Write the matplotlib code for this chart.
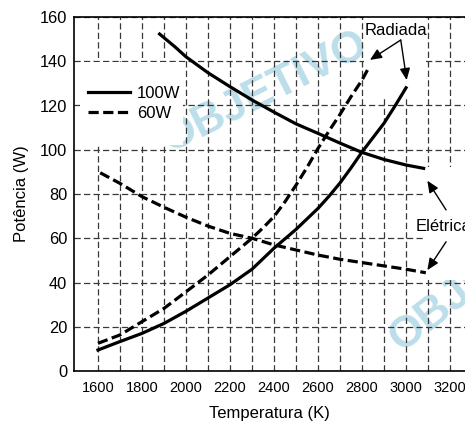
import matplotlib
matplotlib.use("Agg")
import matplotlib.pyplot as plt
from matplotlib.patches import Rectangle
import numpy as np

plt.rcParams['font.family'] = ['Liberation Sans', 'DejaVu Sans']

# valores
el100_T = [1880, 1950, 2000, 2100, 2200, 2300, 2400, 2500, 2600, 2700, 2800, 2900, 3000, 3080]
el100_P = [152.3, 146.5, 142, 134.8, 128.5, 122.5, 117, 111.7, 107.4, 103, 98.8, 95.6, 93.1, 91.6]

rad100_T = [1600, 1700, 1800, 1900, 2000, 2100, 2200, 2300, 2400, 2500, 2600, 2650, 2700,
            2750, 2800, 2850, 2900, 2950, 3000]
rad100_P = [9.5, 13.3, 17, 21.5, 27, 33, 39, 46, 55.5, 64, 73.5, 79, 85,
            91.8, 99, 105.5, 112, 119.8, 128]

el60_T = [1610, 1700, 1800, 1900, 2000, 2100, 2200, 2300, 2400, 2500, 2600, 2700, 2800, 2900, 3000, 3090]
el60_P = [89.6, 84.8, 78.8, 74, 69.5, 65.5, 62.2, 60, 57, 54.7, 52.4, 50.5, 49, 47.5, 46, 44.4]

rad60_T = [1600, 1700, 1800, 1900, 2000, 2100, 2200, 2300, 2350, 2400, 2450, 2500, 2550,
           2600, 2650, 2700, 2750, 2800, 2830]
rad60_P = [12.5, 16.3, 22.3, 28.3, 35.8, 43.4, 51.7, 60, 64.7, 69.8, 76.5, 84, 92,
           100.6, 108.5, 116, 124, 131.5, 137]

x_ticks = [1600, 1800, 2000, 2200, 2400, 2600, 2800, 3000, 3200]
y_ticks = [0, 20, 40, 60, 80, 100, 120, 140, 160]

fig = plt.figure(figsize=(4.65, 4.23), dpi=100)
ax = fig.add_axes([74 / 465, 1 - 371 / 423, 1 - 74 / 465, (371 - 17) / 423])
ax.set_xlim(1491, 3268)
ax.set_ylim(0, 160)

# marca d'agua
wm = '#bcdeea'
ax.text(2359, 126, 'OBJETIVO', fontsize=32, fontweight='bold', color=wm,
        rotation=26.6, ha='center', va='center', zorder=0.1)
ax.text(2944, 12.4, 'OBJETIVO', fontsize=32, fontweight='bold', color=wm,
        rotation=38, rotation_mode='anchor', ha='left', va='center', zorder=0.1, clip_on=False)

# grade tracejada
ax.set_xticks(x_ticks)
ax.set_xticks(np.arange(1700, 3200, 200), minor=True)
ax.set_yticks(y_ticks)
ax.set_axisbelow(True)
grid_kw = dict(color='#383838', linewidth=0.9, linestyle=(0, (5, 2.6)))
ax.grid(True, which='both', axis='x', **grid_kw)
ax.grid(True, which='major', axis='y', **grid_kw)

# areas brancas que escondem a grade
for (x0, y0, w, h) in [(1518, 102, 467, 37.5), (2810, 124, 280, 36), (3090, 41, 180, 51)]:
    ax.add_patch(Rectangle((x0, y0), w, h, facecolor='white', edgecolor='none', zorder=0.8))

lw = 2.3
dsh = (3.2, 1.4)
ax.plot(el100_T, el100_P, color='black', lw=lw, label='100W', zorder=3)
ax.plot(rad100_T, rad100_P, color='black', lw=lw, zorder=3)
ax.plot(el60_T, el60_P, color='black', lw=lw, dashes=dsh, label='60W', zorder=3)
ax.plot(rad60_T, rad60_P, color='black', lw=lw, dashes=dsh, zorder=3)

leg = ax.legend(loc='upper left', bbox_to_anchor=(0.036, 0.806), frameon=False,
                fontsize=12, handlelength=2.5, handletextpad=0.45,
                labelspacing=0.32, borderpad=0, borderaxespad=0)

# anotacoes
ax.text(2952, 154, 'Radiada', fontsize=12, ha='center', va='center', zorder=4)
arr = dict(arrowstyle='-|>,head_length=0.5,head_width=0.22', color='black', lw=1,
           mutation_scale=14, shrinkA=0, shrinkB=0)
ax.annotate('', xy=(2836, 140.6), xytext=(2976, 149.6), arrowprops=arr, zorder=4)
ax.annotate('', xy=(3003, 131.5), xytext=(2976, 149.6), arrowprops=arr, zorder=4)

ax.text(3045, 65.5, 'Elétrica', fontsize=12, ha='left', va='center', zorder=4, clip_on=False)
ax.annotate('', xy=(3097, 86), xytext=(3182, 72.8), arrowprops=arr, zorder=4, annotation_clip=False)
ax.annotate('', xy=(3097, 45.6), xytext=(3182, 58.4), arrowprops=arr, zorder=4, annotation_clip=False)

ax.spines['right'].set_visible(False)
for s in ['left', 'bottom', 'top']:
    ax.spines[s].set_linewidth(1.2)

ax.tick_params(axis='both', which='both', length=0)
ax.tick_params(axis='x', labelsize=10.5, pad=7)
ax.tick_params(axis='y', labelsize=11.8, pad=5)

ax.set_xlabel('Temperatura (K)', fontsize=12, labelpad=8)
ax.set_ylabel('Potência (W)', fontsize=12, labelpad=8)

fig.savefig('out.png', dpi=100)
